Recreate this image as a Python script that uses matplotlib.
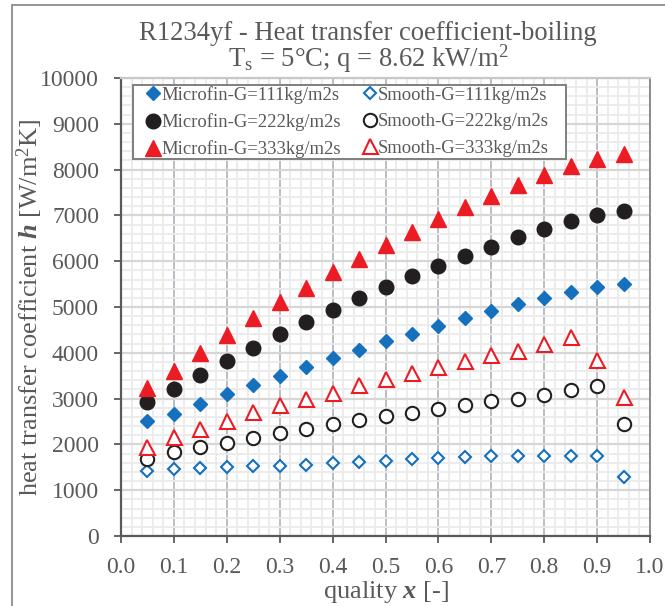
import matplotlib
matplotlib.use("Agg")
import matplotlib.pyplot as plt
from matplotlib.patches import Rectangle
from matplotlib.ticker import MultipleLocator

plt.rcParams['font.family'] = ['Liberation Serif', 'DejaVu Serif']
plt.rcParams['mathtext.fontset'] = 'custom'
plt.rcParams['mathtext.rm'] = 'Liberation Serif'
plt.rcParams['mathtext.it'] = 'Liberation Serif:italic'
plt.rcParams['mathtext.bf'] = 'Liberation Serif:bold'
plt.rcParams['mathtext.bfit'] = 'Liberation Serif:italic:bold'
plt.rcParams['mathtext.default'] = 'regular'

# ---------------- data ----------------
quality = [0.05, 0.10, 0.15, 0.20, 0.25, 0.30, 0.35, 0.40, 0.45, 0.50,
           0.55, 0.60, 0.65, 0.70, 0.75, 0.80, 0.85, 0.90, 0.95]
micro_111 = [2520, 2670, 2890, 3090, 3290, 3490, 3690, 3880, 4070, 4250,
             4420, 4590, 4750, 4910, 5060, 5190, 5330, 5440, 5510]
micro_222 = [2920, 3210, 3510, 3820, 4110, 4400, 4670, 4940, 5190, 5440,
             5670, 5890, 6110, 6315, 6520, 6700, 6870, 7010, 7100]
micro_333 = [3230, 3600, 4000, 4390, 4755, 5110, 5420, 5760, 6055, 6355,
             6645, 6915, 7175, 7425, 7665, 7885, 8080, 8225, 8345]
smooth_111 = [1410, 1465, 1495, 1513, 1528, 1535, 1550, 1587, 1616, 1645,
              1674, 1696, 1718, 1740, 1740, 1747, 1747, 1747, 1295]
smooth_222 = [1685, 1838, 1940, 2035, 2136, 2245, 2333, 2435, 2523, 2610,
              2691, 2771, 2858, 2946, 2990, 3085, 3195, 3267, 2450]
smooth_333 = [1940, 2158, 2341, 2508, 2698, 2851, 2990, 3130, 3289, 3435,
              3558, 3690, 3821, 3945, 4033, 4186, 4346, 3836, 3033]

labels = ['Microfin-G=111kg/m2s', 'Microfin-G=222kg/m2s', 'Microfin-G=333kg/m2s',
          'Smooth-G=111kg/m2s', 'Smooth-G=222kg/m2s', 'Smooth-G=333kg/m2s']
x_ticks = [0.0, 0.1, 0.2, 0.3, 0.4, 0.5, 0.6, 0.7, 0.8, 0.9, 1.0]
y_ticks = [0, 1000, 2000, 3000, 4000, 5000, 6000, 7000, 8000, 9000, 10000]

BLUE = '#1570be'
RED = '#ec1c24'
BLACK = '#231f20'
TXT = '#595959'

W, H = 665, 606
fig = plt.figure(figsize=(W / 100, H / 100), dpi=100)
fig.patch.set_facecolor('white')

# outer chart border (cropped on right/bottom)
fig.patches.append(Rectangle((12 / W, -0.2), 1.3, 1.2 - 5 / H,
                             transform=fig.transFigure, fill=False,
                             edgecolor='#8c8c8c', linewidth=1.3))

ax = fig.add_axes([121 / W, 1 - 536 / H, 529 / W, 458 / H])

# grid
ax.set_xlim(0, 1.0)
ax.set_ylim(0, 10000)
ax.xaxis.set_major_locator(MultipleLocator(0.1))
ax.xaxis.set_minor_locator(MultipleLocator(0.02))
ax.yaxis.set_major_locator(MultipleLocator(1000))
ax.yaxis.set_minor_locator(MultipleLocator(200))
ax.set_axisbelow(True)
ax.grid(which='minor', axis='both', color='#ebebeb', linewidth=1.3)
ax.grid(which='major', axis='y', color='#d6d6d6', linewidth=1.6)
ax.grid(which='major', axis='x', color='#bcbcc4', linewidth=1.4)

ms_kw = dict(linestyle='none')
h1, = ax.plot(quality, micro_111, marker='D', ms=7.3, color=BLUE, mec=BLUE, **ms_kw)
h2, = ax.plot(quality, micro_222, marker='o', ms=10.5, color=BLACK, mec=BLACK, **ms_kw)
h3, = ax.plot(quality, micro_333, marker='^', ms=11.8, color=RED, mec=RED, **ms_kw)
h4, = ax.plot(quality, smooth_111, marker='D', ms=6.6, mfc='white', mec=BLUE, mew=1.5, **ms_kw)
h5, = ax.plot(quality, smooth_222, marker='o', ms=9.6, mfc='white', mec=BLACK, mew=1.5, **ms_kw)
h6, = ax.plot(quality, smooth_333, marker='^', ms=10.8, mfc='white', mec=RED, mew=1.5, **ms_kw)

ax.set_xticks(x_ticks)
ax.set_yticks(y_ticks)
ax.set_xticklabels([f'{v:.1f}' for v in x_ticks])
ax.set_yticklabels([f'{v:d}' for v in y_ticks])
ax.tick_params(which='major', direction='out', length=4.8, width=1.3, color=TXT,
               labelsize=17, labelcolor=TXT)
ax.tick_params(axis='x', pad=10)
ax.tick_params(axis='y', pad=11)
ax.tick_params(which='minor', length=0)

for s in ['left', 'bottom']:
    ax.spines[s].set_color(TXT)
    ax.spines[s].set_linewidth(1.6)
ax.spines['right'].set_color('#8a8a8a')
ax.spines['right'].set_linewidth(1.4)
ax.spines['top'].set_color('#c8c8c8')
ax.spines['top'].set_linewidth(1.6)

ax.set_xlabel(r'quality $\mathbfit{x}$ [-]', fontsize=19, color=TXT, labelpad=1)
ax.set_ylabel(r'heat transfer coefficient $\mathbfit{h}$ [W/m$^{2}$K]', fontsize=19,
              color=TXT)
ax.yaxis.set_label_coords((45 - 121) / 529, 0.5)

fig.text(368 / W, 1 - 40 / H, 'R1234yf - Heat transfer coefficient-boiling',
         ha='center', va='baseline', fontsize=19.2, color=TXT)
fig.text(368 / W, 1 - 67 / H, r'T$_{s}$ = 5°C; q = 8.62 kW/m$^{2}$',
         ha='center', va='baseline', fontsize=19.2, color=TXT)

# legend frame drawn separately (reference box is wider than its content)
ax.add_patch(Rectangle((133 / W, 1 - 159 / H), (566 - 133) / W, (159 - 85) / H,
                       transform=fig.transFigure, facecolor='white',
                       edgecolor='#7f7f7f', linewidth=1.4, zorder=4.5,
                       clip_on=False))
leg = ax.legend([h1, h2, h3, h4, h5, h6], labels, ncol=2,
                loc='upper left', bbox_to_anchor=(147 / W, 1 - 86 / H),
                bbox_transform=fig.transFigure, fontsize=13.4,
                frameon=False, handlelength=0.65, handletextpad=0.1,
                columnspacing=1.25, borderpad=0, labelspacing=0.5,
                borderaxespad=0)
for t in leg.get_texts():
    t.set_color(TXT)

fig.savefig('out.png', dpi=100)
